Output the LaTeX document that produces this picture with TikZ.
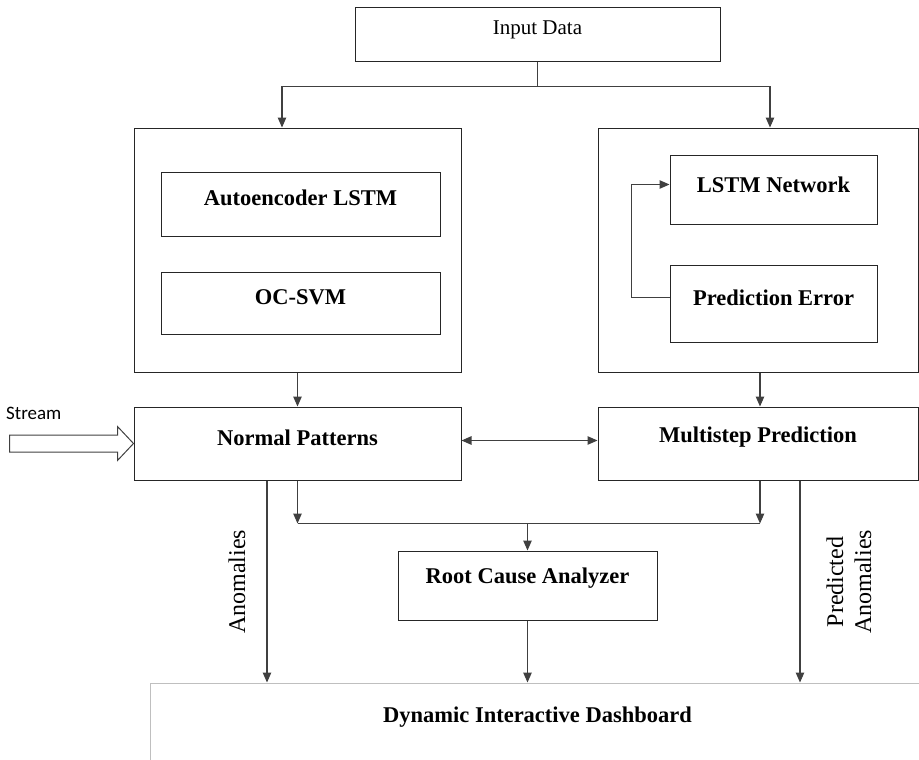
\documentclass[tikz,border=0pt]{standalone}
\usepackage{fontspec}
\setmainfont{Liberation Serif}
\newfontfamily\streamfont{Carlito}
\usetikzlibrary{arrows.meta,calc}
\begin{document}
\begin{tikzpicture}[x=1pt,y=-1pt,
  box/.style={draw=black!85, line width=1pt, inner sep=0pt},
  lbl/.style={font=\fontsize{22.5}{24}\selectfont\bfseries, inner sep=0pt},
  plain/.style={font=\fontsize{21}{24}\selectfont, inner sep=0pt},
  rot/.style={font=\fontsize{24}{28}\selectfont, rotate=90, inner sep=0pt, align=center},
  ln/.style={line width=1.1pt, draw=black!75},
  arr/.style={ln, -{Triangle[length=10pt,width=8.5pt]}},
  darr/.style={ln, {Triangle[length=10pt,width=8.5pt]}-{Triangle[length=10pt,width=8.5pt]}}]
\useasboundingbox (0,0) rectangle (919,760);
\clip (0,0) rectangle (919,760);

% boxes
\node[box, minimum width=365pt, minimum height=54pt] (in) at (537.5,35) {};
\node[plain] (inT) at ([yshift=5pt]in.center) {Input Data};

\node[box, minimum width=327pt, minimum height=244pt] (L) at (297.5,250) {};
\node[box, minimum width=279pt, minimum height=64pt] (ae) at (300.5,204) {};
\node[lbl] (aeT) at ([yshift=6pt]ae.center) {Autoencoder LSTM};
\node[box, minimum width=279pt, minimum height=62pt] (oc) at (300.5,303) {};
\node[lbl] (ocT) at ([yshift=6pt]oc.center) {OC-SVM};

\node[box, minimum width=320pt, minimum height=244pt] (R) at (758,250) {};
\node[box, minimum width=207pt, minimum height=69pt] (lstm) at (773.5,189.5) {};
\node[lbl] (lstmT) at ([yshift=5pt]lstm.center) {LSTM Network};
\node[box, minimum width=207pt, minimum height=77pt] (pe) at (773.5,303.5) {};
\node[lbl] (peT) at ([yshift=6pt]pe.center) {Prediction Error};

\node[box, minimum width=327pt, minimum height=73pt] (np) at (297.5,443.5) {};
\node[lbl] (npT) at ([yshift=6pt]np.center) {Normal Patterns};
\node[box, minimum width=320pt, minimum height=73pt] (mp) at (758,443.5) {};
\node[lbl] (mpT) at ([yshift=6pt]mp.center) {Multistep Prediction};

\node[box, minimum width=259pt, minimum height=69pt] (rc) at (527.5,585.5) {};
\node[lbl] (rcT) at ([yshift=7pt]rc.center) {Root Cause Analyzer};

\node[box, draw=black!25, minimum width=775pt, minimum height=92pt] (db) at (537.5,729) {};
\node[lbl] (dbT) at ([yshift=12pt]db.center) {Dynamic Interactive Dashboard};

% connectors from input
\draw[arr] (in.south) -- ++(0,24) -| ([xshift=-15.5pt]L.north);
\draw[arr] (in.south) -- ++(0,24) -| ([xshift=12pt]R.north);

% feedback loop
\draw[arr] ([yshift=6pt]pe.west) -- ++(-38,0) |- ([yshift=5pt]lstm.west);

\draw[arr] (L.south) -- (np.north);
\draw[arr] ([xshift=2pt]R.south) -- ([xshift=2pt]mp.north);
\draw[darr] ([yshift=3pt]np.east) -- ([yshift=3pt]mp.west);

% merge to root cause
\coordinate (mL) at ([yshift=-43pt]np.south);
\coordinate (mR) at (mL -| mp.south);
\coordinate (mR) at ([xshift=2pt]mR);
\draw[arr] (np.south) -- (mL);
\draw[arr] ([xshift=2pt]mp.south) -- (mR);
\draw[ln] (mL) -- (mR);
\draw[arr] (mL -| rc.north) -- (rc.north);
\draw[arr] (rc.south) -- (rc.south |- db.north);

% anomalies
\draw[arr] ([xshift=-30.5pt]np.south) coordinate (a1) -- (a1 |- db.north);
\draw[arr] ([xshift=42pt]mp.south) coordinate (p1) -- (p1 |- db.north);
\node[rot] (anl) at (237,582) {Anomalies};
\node[rot] (pal) at (849,582) {Predicted\\Anomalies};

% stream
\node[font=\streamfont\fontsize{19}{22}\selectfont, anchor=west, inner sep=0pt] (st) at (6,413) {Stream};
\draw[line width=1pt, draw=black!75] (np.west) -- ++(-16,-17) -- ++(0,8.5) -- ++(-108,0) -- ++(0,17) -- ++(108,0) -- ++(0,8.5) -- cycle;
\end{tikzpicture}
\end{document}
